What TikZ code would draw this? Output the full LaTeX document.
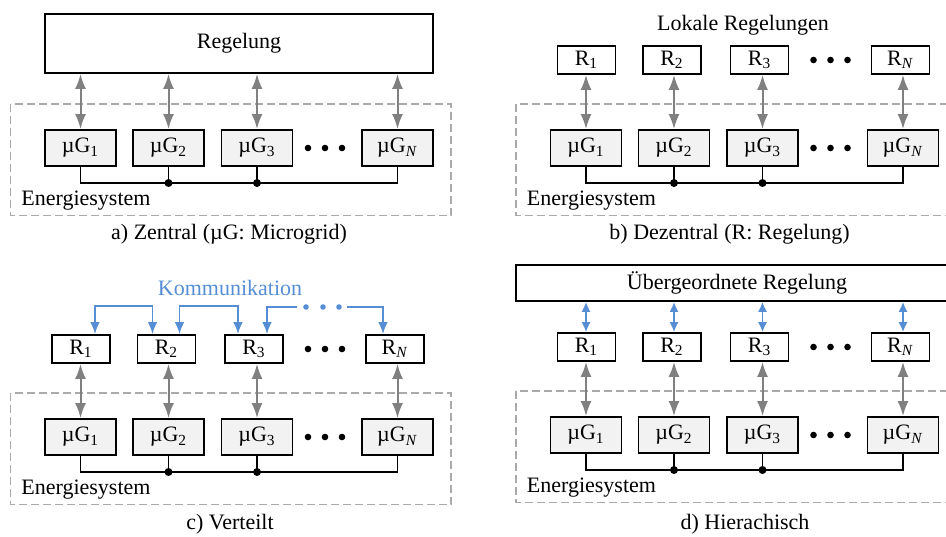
\documentclass[tikz,border=0pt]{standalone}
\usepackage{fontspec}
\setmainfont{Liberation Serif}
\usepackage{tikz}
\usetikzlibrary{arrows.meta}
\definecolor{linkgray}{RGB}{128,128,128}
\definecolor{framegray}{RGB}{170,170,170}
\definecolor{mgfill}{RGB}{242,242,242}
\definecolor{kommblue}{RGB}{85,142,213}
\tikzset{mg/.style={rectangle, draw, line width=0.9pt, fill=mgfill, minimum width=35.5pt, minimum height=18pt, inner sep=0pt}}
\tikzset{regbox/.style={rectangle, draw, line width=0.9pt, minimum width=29pt, minimum height=14pt, inner sep=0pt}}
\tikzset{ctlbox/.style={rectangle, draw, line width=0.9pt, inner sep=0pt}}
\tikzset{link/.style={<->, >={Latex[length=7.5pt, width=5.5pt]}, color=linkgray, line width=1pt}}
\tikzset{komm/.style={>={Latex[length=6pt, width=4.8pt]}, color=kommblue, line width=0.9pt}}
\tikzset{hlink/.style={<->, >={Latex[length=5pt, width=4.6pt]}, color=kommblue, line width=0.9pt}}
\tikzset{bus/.style={line width=0.75pt}}
\tikzset{frame/.style={color=framegray, line width=0.8pt, dash pattern=on 4pt off 2pt}}
\tikzset{dot/.style={circle, fill, inner sep=0pt, minimum size=3.3pt}}
\tikzset{junction/.style={circle, fill, inner sep=0pt, minimum size=4pt}}
\tikzset{kdot/.style={circle, fill=kommblue, inner sep=0pt, minimum size=2.8pt}}

% micro grids, bus and dashed frame of one panel
\newcommand{\energiesystem}{
  \draw[frame] (10.5,104) rectangle (451,215.5);
  \node[anchor=base west, inner sep=0pt] (es) at (21,205) {Energiesystem};
  \node[mg] (g1) at (80.5,148) {µG\textsubscript{1}};
  \node[mg] (g2) at (168.5,148) {µG\textsubscript{2}};
  \node[mg] (g3) at (257,148) {µG\textsubscript{3}};
  \node[mg] (gN) at (397.5,148) {µG\textsubscript{\textit{N}}};
  \node[dot] (gd1) at (308,148) {};
  \node[dot] (gd2) at (325,148) {};
  \node[dot] (gd3) at (342,148) {};
  \coordinate (bus) at (0,183);
  \draw[bus] (g1.south) -- (g1.south |- bus) -- (gN.south |- bus) -- (gN.south);
  \draw[bus] (g2.south) -- (g2.south |- bus) node[junction] (j2) {};
  \draw[bus] (g3.south) -- (g3.south |- bus) node[junction] (j3) {};
}

% local controllers above the micro grids
\newcommand{\regler}{
  \node[regbox] (r1) at (81,60) {R\textsubscript{1}};
  \node[regbox] (r2) at (166.5,60) {R\textsubscript{2}};
  \node[regbox] (r3) at (254,60) {R\textsubscript{3}};
  \node[regbox] (rN) at (395,60) {R\textsubscript{\textit{N}}};
  \node[dot] (rd1) at (308,60) {};
  \node[dot] (rd2) at (325,60) {};
  \node[dot] (rd3) at (342,60) {};
  \draw[link] (g1.north |- r1.south) -- (g1.north);
  \draw[link] (g2.north |- r2.south) -- (g2.north);
  \draw[link] (g3.north |- r3.south) -- (g3.north);
  \draw[link] (gN.north |- rN.south) -- (gN.north);
}

\begin{document}
\begin{tikzpicture}[x=0.5pt, y=-0.5pt, font=\fontsize{11}{13}\selectfont]
  \useasboundingbox (0,0) rectangle (946,536);
  \clip (0,0) rectangle (946,536);

  % --- a) Zentral ---
  \begin{scope}[name prefix=a-]
    \node[ctlbox, minimum width=194pt, minimum height=29.5pt] (ctl) at (239,43.5) {Regelung};
    \energiesystem
    \draw[link] (g1.north |- ctl.south) -- (g1.north);
    \draw[link] (g2.north |- ctl.south) -- (g2.north);
    \draw[link] (g3.north |- ctl.south) -- (g3.north);
    \draw[link] (gN.north |- ctl.south) -- (gN.north);
    \node (cap) at (229,234) {a) Zentral (µG: Microgrid)};
  \end{scope}

  % --- b) Dezentral ---
  \begin{scope}[shift={(505.5,0)}, name prefix=b-]
    \node (lok) at (237.5,25) {Lokale Regelungen};
    \energiesystem
    \regler
    \node (cap) at (224,234) {b) Dezentral (R: Regelung)};
  \end{scope}

  % --- c) Verteilt ---
  \begin{scope}[shift={(0,289)}, name prefix=c-]
    \node[text=kommblue] (komm) at (230,-1) {Kommunikation};
    \energiesystem
    \regler
    \draw[komm, <->] ([xshift=7pt]r1.north) -- ++(0,-28) -| ([xshift=-7pt]r2.north);
    \draw[komm, <->] ([xshift=6.5pt]r2.north) -- ++(0,-28) -| ([xshift=-8pt]r3.north);
    \coordinate (k1) at (297,18);
    \coordinate (k2) at (347,18);
    \draw[komm, <-] ([xshift=6.5pt]r3.north) |- (k1);
    \node[kdot] (kd1) at (306,18) {};
    \node[kdot] (kd2) at (323,18) {};
    \node[kdot] (kd3) at (339,18) {};
    \draw[komm, ->] (k2) -| ([xshift=-6pt]rN.north);
    \node (cap) at (230,235.5) {c) Verteilt};
  \end{scope}

  % --- d) Hierachisch ---
  \begin{scope}[shift={(505.5,287)}, name prefix=d-]
    \node[ctlbox, minimum width=221pt, minimum height=18pt] (ctl) at (231.5,-4) {Übergeordnete Regelung};
    \energiesystem
    \regler
    \draw[hlink] (g1.north |- ctl.south) -- (g1.north |- r1.north);
    \draw[hlink] (g2.north |- ctl.south) -- (g2.north |- r2.north);
    \draw[hlink] (g3.north |- ctl.south) -- (g3.north |- r3.north);
    \draw[hlink] (gN.north |- ctl.south) -- (gN.north |- rN.north);
    \node (cap) at (239.5,237) {d) Hierachisch};
  \end{scope}

\end{tikzpicture}
\end{document}
